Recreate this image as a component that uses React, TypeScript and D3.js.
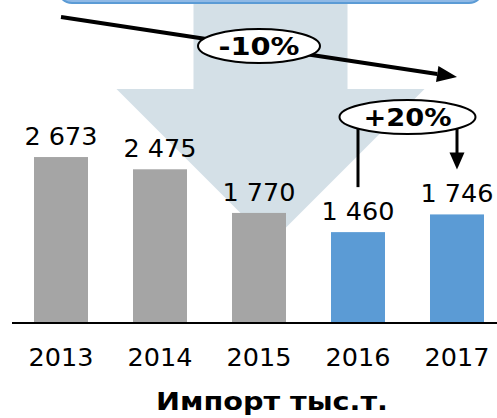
import React from "react";
import * as d3 from "d3";

const years = ["2013", "2014", "2015", "2016", "2017"];
const values = [2673, 2475, 1770, 1460, 1746];
const valueLabels = ["2 673", "2 475", "1 770", "1 460", "1 746"];
const forecastFrom = 3; // index where blue bars start
const trendLabel = "-10%";
const growthLabel = "+20%";
const title = "Импорт тыс.т.";

const W = 497;
const H = 418;
const FONT = "'DejaVu Sans', Verdana, sans-serif";

export default function App() {
  const x = d3
    .scaleBand<string>()
    .domain(years)
    .range([11.5, 506.5])
    .paddingInner(0.4545)
    .paddingOuter(0.2273);
  const y = d3.scaleLinear().domain([0, 3000]).range([322.5, 136.8]);
  const bw = x.bandwidth();
  const cx = (i: number) => (x(years[i]) as number) + bw / 2;

  // trend arrow (first year -> last year)
  const tx0 = cx(0);
  const tx1 = cx(years.length - 1);
  const ty0 = 17;
  const ty1 = 77;
  const ang = Math.atan2(ty1 - ty0, tx1 - tx0);
  const headLen = 20;
  const headW = 8;
  const bx = tx1 - headLen * Math.cos(ang);
  const by = ty1 - headLen * Math.sin(ang);
  const px = -Math.sin(ang);
  const py = Math.cos(ang);
  const trendMidX = cx(2);
  const trendMidY = ty0 + ((trendMidX - tx0) / (tx1 - tx0)) * (ty1 - ty0);

  // growth bracket between last two years
  const gx0 = cx(3);
  const gx1 = cx(4);
  const gTop = 118;
  const gy0 = y(values[3]) - 45;
  const gy1 = y(values[4]) - 45;

  // big background arrow
  const ac = 270.5;
  const shaftHalf = 77;
  const headHalf = 154;
  const headY = 89;
  const tipY = headY + headHalf;
  const bigArrow = [
    [ac - shaftHalf, -5],
    [ac + shaftHalf, -5],
    [ac + shaftHalf, headY],
    [ac + headHalf, headY],
    [ac, tipY],
    [ac - headHalf, headY],
    [ac - shaftHalf, headY],
  ];
  const line = d3.line();

  return (
    <svg
      width={W}
      height={H}
      style={{ position: "absolute", left: 0, top: 0, display: "block" }}
      fontFamily={FONT}
    >
      <rect width={W} height={H} fill="#ffffff" />
      <path d={line(bigArrow as [number, number][]) + "Z"} fill="#d4e0e7" />
      <rect x={58} y={-40} width={425} height={43} rx={14} fill="#8fb9e6" stroke="#5b9bd5" strokeWidth={2} />

      {values.map((v, i) => (
        <g key={years[i]}>
          <rect
            x={x(years[i])}
            y={y(v)}
            width={bw}
            height={y(0) - y(v)}
            fill={i >= forecastFrom ? "#5b9bd5" : "#a5a5a5"}
          />
          <text x={cx(i)} y={y(v) - 12} textAnchor="middle" fontSize={25.5} fill="#000">
            {valueLabels[i]}
          </text>
          <text x={cx(i)} y={365.5} textAnchor="middle" fontSize={25.5} fill="#000">
            {years[i]}
          </text>
        </g>
      ))}
      <line x1={12} x2={W} y1={323} y2={323} stroke="#000" strokeWidth={2} />

      {/* trend arrow */}
      <line x1={tx0} y1={ty0} x2={bx} y2={by} stroke="#000" strokeWidth={4} />
      <polygon
        points={`${tx1},${ty1} ${bx + px * headW},${by + py * headW} ${bx - px * headW},${by - py * headW}`}
        fill="#000"
      />
      <ellipse cx={trendMidX} cy={trendMidY - 1} rx={61} ry={17} fill="#fff" stroke="#000" strokeWidth={2} />
      <text x={trendMidX} y={trendMidY + 8} textAnchor="middle" fontSize={24} fontWeight="bold" textLength={81} lengthAdjust="spacingAndGlyphs">
        {trendLabel}
      </text>

      {/* growth bracket */}
      <line x1={gx0} y1={gTop} x2={gx0} y2={gy0} stroke="#000" strokeWidth={3} />
      <line x1={gx1} y1={gTop} x2={gx1} y2={gy1 - 16} stroke="#000" strokeWidth={3} />
      <polygon points={`${gx1},${gy1} ${gx1 - 7.5},${gy1 - 17} ${gx1 + 7.5},${gy1 - 17}`} fill="#000" />
      <ellipse cx={(gx0 + gx1) / 2} cy={117} rx={68} ry={17} fill="#fff" stroke="#000" strokeWidth={2} />
      <text x={(gx0 + gx1) / 2} y={126} textAnchor="middle" fontSize={24} fontWeight="bold" textLength={88} lengthAdjust="spacingAndGlyphs">
        {growthLabel}
      </text>

      <text x={272} y={410} textAnchor="middle" fontSize={24} fontWeight="bold" fill="#000" textLength={232} lengthAdjust="spacingAndGlyphs">
        {title}
      </text>
    </svg>
  );
}
